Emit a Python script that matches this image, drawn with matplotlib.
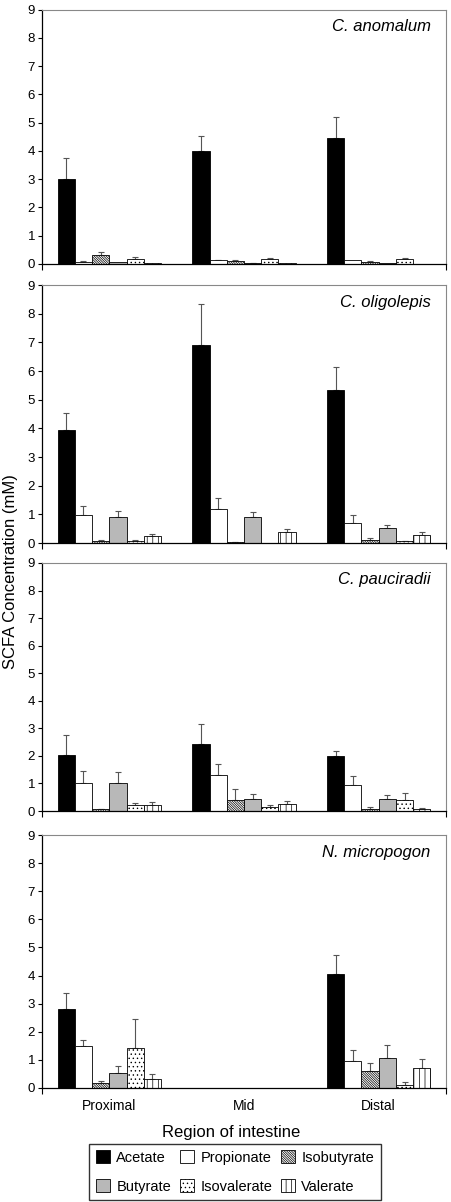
import numpy as np
import matplotlib
matplotlib.use("Agg")
from matplotlib import pyplot as plt
from matplotlib.patches import Patch

plt.rcParams['font.family'] = ['Liberation Sans', 'DejaVu Sans']
plt.rcParams['hatch.linewidth'] = 0.5

regions = ['Proximal', 'Mid', 'Distal']
acids = ['Acetate', 'Propionate', 'Isobutyrate', 'Butyrate', 'Isovalerate', 'Valerate']
species = ['C. anomalum', 'C. oligolepis', 'C. pauciradii', 'N. micropogon']

# means: one row per acid, columns = Proximal, Mid, Distal
anomalum_mean = [[3.00, 4.01, 4.44],
                 [0.08, 0.13, 0.14],
                 [0.32, 0.10, 0.07],
                 [0.06, 0.04, 0.02],
                 [0.19, 0.19, 0.19],
                 [0.02, 0.02, 0.00]]
anomalum_err = [[0.74, 0.52, 0.76],
                [0.03, 0.02, 0.00],
                [0.10, 0.05, 0.03],
                [0.00, 0.01, 0.00],
                [0.06, 0.03, 0.02],
                [0.00, 0.00, 0.00]]

oligolepis_mean = [[3.94, 6.91, 5.34],
                   [0.96, 1.18, 0.70],
                   [0.07, 0.04, 0.12],
                   [0.92, 0.90, 0.52],
                   [0.07, 0.00, 0.06],
                   [0.26, 0.37, 0.28]]
oligolepis_err = [[0.61, 1.42, 0.80],
                  [0.33, 0.39, 0.28],
                  [0.02, 0.01, 0.05],
                  [0.21, 0.17, 0.10],
                  [0.02, 0.00, 0.02],
                  [0.07, 0.11, 0.10]]

pauciradii_mean = [[2.03, 2.43, 2.00],
                   [1.03, 1.31, 0.94],
                   [0.07, 0.39, 0.07],
                   [1.00, 0.45, 0.42],
                   [0.20, 0.13, 0.39],
                   [0.20, 0.24, 0.07]]
pauciradii_err = [[0.72, 0.73, 0.19],
                  [0.43, 0.39, 0.33],
                  [0.02, 0.41, 0.06],
                  [0.40, 0.15, 0.15],
                  [0.10, 0.08, 0.25],
                  [0.12, 0.12, 0.03]]

micropogon_mean = [[2.82, 0.0, 4.07],
                   [1.48, 0.0, 0.97],
                   [0.19, 0.0, 0.62],
                   [0.55, 0.0, 1.08],
                   [1.42, 0.0, 0.12],
                   [0.33, 0.0, 0.72]]
micropogon_err = [[0.57, 0.0, 0.67],
                  [0.22, 0.0, 0.39],
                  [0.07, 0.0, 0.28],
                  [0.24, 0.0, 0.46],
                  [1.05, 0.0, 0.10],
                  [0.18, 0.0, 0.31]]

means = [anomalum_mean, oligolepis_mean, pauciradii_mean, micropogon_mean]
errs = [anomalum_err, oligolepis_err, pauciradii_err, micropogon_err]

faces = ['black', 'white', 'white', '#b8b8b8', 'white', 'white']
hatches = [None, None, '\\' * 14, None, '....', '|||']

# axes boxes in pixels (top, bottom) of a 452x1202 figure
W, H = 452, 1202
left_px, right_px = 42, 446
boxes = [(9.5, 264), (285, 543), (563, 811), (835, 1088)]

fig = plt.figure(figsize=(W / 100, H / 100), dpi=100)

x = np.arange(len(regions))
w = 0.128
for k, (top, bot) in enumerate(boxes):
    ax = fig.add_axes([left_px / W, 1 - bot / H, (right_px - left_px) / W, (bot - top) / H])
    m = np.array(means[k])
    e = np.array(errs[k])
    for i in range(len(acids)):
        xi = x + (i - 2.5) * w
        ax.bar(xi, m[i], width=w, color=faces[i], edgecolor='black',
               linewidth=0.6, hatch=hatches[i], zorder=2)
        show = e[i] > 0
        if show.any():
            ax.errorbar(xi[show], m[i][show], yerr=[np.zeros(show.sum()), e[i][show]],
                        fmt='none', ecolor='#555555', elinewidth=0.8, capsize=2.5,
                        capthick=0.8, zorder=1)
    ax.set_xlim(-0.5, 2.5)
    ax.set_ylim(0, 9)
    ax.set_yticks(range(10))
    ax.tick_params(axis='y', labelsize=9.5, length=3, width=0.8, pad=2)
    ax.set_xticks([-0.5, 2.5], minor=True)
    ax.tick_params(axis='x', which='minor', length=4, width=0.8)
    ax.set_xticks(x)
    ax.tick_params(axis='x', which='major', length=0, labelsize=10, pad=8)
    if k < 3:
        ax.set_xticklabels([])
    else:
        ax.set_xticklabels(regions)
        ax.set_xlabel('Region of intestine', fontsize=12, labelpad=6)
        ax.xaxis.set_label_coords((231 - left_px) / (right_px - left_px), -0.145)
    for s in ['top', 'right']:
        ax.spines[s].set_color('#888888')
        ax.spines[s].set_linewidth(0.8)
    for s in ['left', 'bottom']:
        ax.spines[s].set_linewidth(0.9)
    ax.text(0.962, 0.915, species[k], transform=ax.transAxes, ha='right',
            va='baseline', fontsize=12, style='italic')

fig.text(11 / W, 1 - 572 / H, 'SCFA Concentration (mM)', rotation=90,
         ha='center', va='center', fontsize=12)

handles = [Patch(facecolor=faces[i], edgecolor='black', linewidth=0.6,
                 hatch=hatches[i], label=acids[i]) for i in range(len(acids))]
order = [0, 3, 1, 4, 2, 5]
fig.legend([handles[i] for i in order], [acids[i] for i in order], ncol=3,
           loc='center', bbox_to_anchor=(235 / W, 1 - 1172 / H),
           fontsize=10.5, frameon=True, fancybox=False, edgecolor='black',
           handlelength=0.95, handleheight=0.95, handletextpad=0.45,
           columnspacing=0.6, labelspacing=1.0, borderpad=0.45)

fig.savefig('out.png', dpi=100)
